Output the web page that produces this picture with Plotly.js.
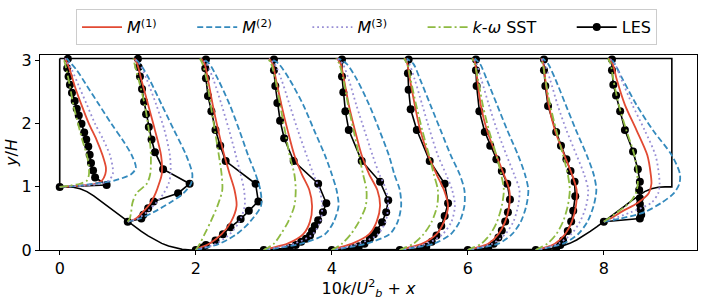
<!DOCTYPE html>
<html><head><meta charset="utf-8">
<script src="https://cdn.plot.ly/plotly-3.0.1.min.js"></script>
<style>html,body{margin:0;padding:0;background:#fff}#chart{width:706px;height:300px}</style>
</head><body><div id="chart"></div>
<script>
// ---- stations (x positions of profiles) ----
const stations = [0, 1, 2, 3, 4, 5, 6, 7, 8];

// ---- geometry: hill height vs distance from crest (y/H), channel top ----
const hillDist   = [0, 0.1, 0.2, 0.3, 0.4, 0.5, 0.6, 0.7, 0.8, 0.9, 1.0, 1.1, 1.2, 1.3, 1.4, 1.5, 1.6, 1.7, 1.8, 1.93];
const hillHeight = [1, 1.0, 0.994, 0.972, 0.925, 0.857, 0.776, 0.691, 0.607, 0.527, 0.448, 0.371, 0.295, 0.224, 0.159, 0.105, 0.062, 0.030, 0.010, 0];
const channelTop = 3.035;
const periodLength = 9;

// ---- legend labels ----
const labelM1 = '<i>M</i><sup>(1)</sup>';
const labelM2 = '<i>M</i><sup>(2)</sup>';
const labelM3 = '<i>M</i><sup>(3)</sup>';
const labelSST = '<i>k</i>-<i>ω</i> SST';
const labelLES = 'LES';

// ---- y levels of model profiles ----
const yCrest = [1.0, 1.02, 1.05, 1.1, 1.2, 1.3, 1.5, 1.75, 2.0, 2.3, 2.6, 2.85, 3.035];
const ySlope = [0.448, 0.5, 0.6, 0.75, 0.9, 1.05, 1.2, 1.5, 1.9, 2.3, 2.7, 2.95, 3.035];
const yFlat  = [0, 0.03, 0.1, 0.25, 0.45, 0.7, 0.95, 1.2, 1.5, 1.9, 2.3, 2.7, 2.95, 3.035];
const modelY = [yCrest, ySlope, yFlat, yFlat, yFlat, yFlat, yFlat, yFlat, ySlope];

// ---- 10k/Ub^2 for each model, per station ----
const m1K = [
  [0, 0.3, 0.52, 0.62, 0.67, 0.68, 0.63, 0.54, 0.43, 0.32, 0.22, 0.15, 0.08],
  [0, 0.12, 0.22, 0.34, 0.41, 0.46, 0.5, 0.49, 0.4, 0.3, 0.2, 0.14, 0.1],
  [0, 0.05, 0.2, 0.38, 0.52, 0.6, 0.57, 0.5, 0.42, 0.33, 0.25, 0.18, 0.13, 0.08],
  [0, 0.1, 0.35, 0.58, 0.68, 0.71, 0.67, 0.56, 0.45, 0.35, 0.26, 0.18, 0.13, 0.08],
  [0, 0.08, 0.3, 0.55, 0.66, 0.71, 0.67, 0.55, 0.44, 0.34, 0.25, 0.18, 0.13, 0.08],
  [0, 0.1, 0.33, 0.54, 0.65, 0.71, 0.65, 0.54, 0.42, 0.3, 0.22, 0.15, 0.11, 0.08],
  [0, 0.1, 0.3, 0.45, 0.55, 0.61, 0.61, 0.53, 0.42, 0.28, 0.19, 0.14, 0.11, 0.08],
  [0, 0.1, 0.28, 0.43, 0.53, 0.59, 0.6, 0.53, 0.42, 0.28, 0.19, 0.14, 0.11, 0.08],
  [0, 0.1, 0.25, 0.5, 0.66, 0.7, 0.69, 0.64, 0.48, 0.31, 0.19, 0.13, 0.08]
];
const m2K = [
  [0, 0.3, 0.5, 0.8, 1.05, 1.12, 1.06, 0.92, 0.76, 0.58, 0.4, 0.25, 0.1],
  [0, 0.18, 0.38, 0.62, 0.82, 0.93, 0.95, 0.86, 0.68, 0.5, 0.32, 0.18, 0.1],
  [0, 0.12, 0.35, 0.6, 0.8, 0.96, 0.95, 0.88, 0.77, 0.64, 0.5, 0.33, 0.2, 0.1],
  [0, 0.2, 0.55, 0.9, 1.03, 1.1, 1.07, 1.0, 0.9, 0.74, 0.58, 0.38, 0.22, 0.1],
  [0, 0.18, 0.5, 0.85, 0.97, 1.02, 1.0, 0.92, 0.84, 0.7, 0.55, 0.37, 0.22, 0.1],
  [0, 0.16, 0.5, 0.75, 0.88, 0.95, 0.95, 0.88, 0.75, 0.6, 0.45, 0.3, 0.2, 0.1],
  [0, 0.15, 0.45, 0.65, 0.78, 0.86, 0.89, 0.84, 0.74, 0.58, 0.43, 0.28, 0.18, 0.1],
  [0, 0.14, 0.4, 0.62, 0.76, 0.85, 0.89, 0.85, 0.75, 0.59, 0.44, 0.29, 0.18, 0.1],
  [0, 0.25, 0.6, 0.85, 1.03, 1.11, 1.12, 1.0, 0.72, 0.48, 0.28, 0.16, 0.1]
];
const m3K = [
  [0, 0.35, 0.6, 0.72, 0.78, 0.78, 0.74, 0.64, 0.52, 0.4, 0.28, 0.18, 0.08],
  [0, 0.15, 0.28, 0.42, 0.53, 0.6, 0.63, 0.62, 0.54, 0.42, 0.28, 0.17, 0.1],
  [0, 0.1, 0.3, 0.5, 0.64, 0.72, 0.71, 0.66, 0.59, 0.49, 0.38, 0.26, 0.16, 0.08],
  [0, 0.15, 0.45, 0.72, 0.83, 0.86, 0.82, 0.73, 0.63, 0.5, 0.38, 0.26, 0.16, 0.08],
  [0, 0.12, 0.4, 0.68, 0.79, 0.83, 0.8, 0.7, 0.6, 0.48, 0.36, 0.25, 0.16, 0.08],
  [0, 0.13, 0.4, 0.63, 0.76, 0.81, 0.77, 0.68, 0.56, 0.44, 0.33, 0.22, 0.14, 0.08],
  [0, 0.12, 0.36, 0.55, 0.67, 0.74, 0.76, 0.68, 0.57, 0.43, 0.31, 0.2, 0.13, 0.08],
  [0, 0.12, 0.33, 0.52, 0.65, 0.74, 0.77, 0.71, 0.6, 0.45, 0.32, 0.21, 0.13, 0.08],
  [0, 0.15, 0.4, 0.7, 0.8, 0.82, 0.81, 0.76, 0.6, 0.42, 0.26, 0.16, 0.08]
];
const sstK = [
  [0, 0.15, 0.3, 0.4, 0.43, 0.43, 0.4, 0.33, 0.27, 0.2, 0.15, 0.1, 0.06],
  [0, 0.03, 0.05, 0.07, 0.13, 0.28, 0.33, 0.34, 0.31, 0.25, 0.16, 0.1, 0.08],
  [0, 0.02, 0.06, 0.13, 0.22, 0.32, 0.39, 0.38, 0.34, 0.28, 0.22, 0.16, 0.1, 0.06],
  [0, 0.05, 0.15, 0.25, 0.36, 0.45, 0.47, 0.45, 0.38, 0.31, 0.24, 0.17, 0.11, 0.06],
  [0, 0.05, 0.15, 0.28, 0.4, 0.5, 0.51, 0.46, 0.4, 0.32, 0.24, 0.17, 0.11, 0.06],
  [0, 0.06, 0.2, 0.35, 0.47, 0.55, 0.56, 0.5, 0.43, 0.33, 0.24, 0.16, 0.11, 0.06],
  [0, 0.06, 0.2, 0.33, 0.43, 0.5, 0.53, 0.49, 0.42, 0.31, 0.22, 0.15, 0.1, 0.06],
  [0, 0.05, 0.17, 0.3, 0.4, 0.47, 0.5, 0.47, 0.4, 0.3, 0.21, 0.14, 0.1, 0.06],
  [0, 0.07, 0.2, 0.38, 0.47, 0.5, 0.49, 0.45, 0.33, 0.22, 0.14, 0.1, 0.06]
];

// ---- LES samples (y/H and 10k/Ub^2) per station ----
const lesY = [
  [1.0, 1.03, 1.15, 1.26, 1.38, 1.51, 1.64, 1.75, 1.86, 2.0, 2.13, 2.24, 2.36, 2.49, 2.62, 2.75, 2.88, 3.03],
  [0.448, 0.5, 0.56, 0.66, 0.77, 0.9, 1.05, 1.28, 1.55, 1.75, 1.95, 2.15, 2.35, 2.55, 2.75, 2.9, 3.03],
  [0, 0.04, 0.08, 0.15, 0.25, 0.36, 0.49, 0.62, 0.77, 1.05, 1.41, 1.65, 1.9, 2.2, 2.44, 2.72, 2.88, 3.02],
  [0, 0.03, 0.08, 0.13, 0.18, 0.23, 0.3, 0.38, 0.47, 0.6, 0.74, 1.05, 1.41, 1.77, 2.05, 2.33, 2.6, 2.85, 3.02],
  [0, 0.03, 0.06, 0.1, 0.18, 0.25, 0.31, 0.44, 0.6, 0.79, 1.08, 1.41, 1.9, 2.2, 2.5, 2.75, 3.02],
  [0, 0.02, 0.05, 0.13, 0.23, 0.38, 0.54, 0.74, 1.05, 1.41, 1.9, 2.23, 2.54, 2.8, 3.02],
  [0, 0.03, 0.1, 0.2, 0.31, 0.45, 0.6, 0.8, 1.05, 1.25, 1.44, 1.65, 1.87, 2.2, 2.6, 2.85, 3.02],
  [0, 0.03, 0.08, 0.15, 0.3, 0.45, 0.62, 0.85, 1.08, 1.25, 1.44, 1.65, 1.87, 2.28, 2.6, 2.85, 3.02],
  [0.448, 0.5, 0.56, 0.64, 0.73, 0.82, 0.95, 1.08, 1.28, 1.56, 1.9, 2.2, 2.45, 2.62, 2.85, 3.02]
];
const lesK = [
  [0, 0.69, 0.52, 0.49, 0.46, 0.44, 0.42, 0.39, 0.36, 0.32, 0.28, 0.25, 0.22, 0.18, 0.15, 0.13, 0.11, 0.12],
  [0, 0.2, 0.23, 0.3, 0.38, 0.74, 0.91, 0.52, 0.4, 0.35, 0.31, 0.27, 0.24, 0.21, 0.18, 0.16, 0.15],
  [0, 0.1, 0.15, 0.29, 0.4, 0.51, 0.66, 0.78, 0.92, 0.88, 0.44, 0.36, 0.29, 0.23, 0.18, 0.15, 0.14, 0.15],
  [0, 0.38, 0.47, 0.55, 0.62, 0.68, 0.71, 0.75, 0.8, 0.87, 0.92, 0.8, 0.44, 0.3, 0.24, 0.2, 0.17, 0.15, 0.15],
  [0, 0.3, 0.4, 0.48, 0.56, 0.62, 0.66, 0.74, 0.8, 0.83, 0.71, 0.44, 0.25, 0.2, 0.17, 0.15, 0.15],
  [0, 0.3, 0.39, 0.47, 0.54, 0.61, 0.66, 0.71, 0.66, 0.44, 0.25, 0.16, 0.13, 0.12, 0.13],
  [0, 0.3, 0.38, 0.45, 0.5, 0.55, 0.59, 0.62, 0.58, 0.5, 0.42, 0.33, 0.25, 0.17, 0.13, 0.12, 0.12],
  [0, 0.3, 0.36, 0.4, 0.47, 0.52, 0.55, 0.58, 0.57, 0.51, 0.45, 0.37, 0.3, 0.18, 0.14, 0.12, 0.12],
  [0, 0.53, 0.55, 0.54, 0.53, 0.53, 0.52, 0.53, 0.5, 0.43, 0.31, 0.24, 0.18, 0.14, 0.12, 0.12]
];

// ---- build ----
function profiles(kSets, ySets) {
  const x = [], y = [];
  stations.forEach((s, i) => {
    kSets[i].forEach((k, j) => { x.push(s + k); y.push(ySets[i][j]); });
    x.push(null); y.push(null);
  });
  return {x, y};
}
const pad = n => '\u00a0'.repeat(n);

// geometry outline
const gx = [], gy = [];
gx.push(0); gy.push(channelTop);
hillDist.forEach((d, i) => { gx.push(d); gy.push(hillHeight[i]); });
for (let i = hillDist.length - 1; i >= 0; i--) { gx.push(periodLength - hillDist[i]); gy.push(hillHeight[i]); }
gx.push(periodLength); gy.push(channelTop);
gx.push(0); gy.push(channelTop);

const FONT = 'DejaVu Sans, Arial, sans-serif';
const FS = 16;
const LW = 1.8;
const les = profiles(lesK, lesY);
const p1 = profiles(m1K, modelY), p2 = profiles(m2K, modelY), p3 = profiles(m3K, modelY), p4 = profiles(sstK, modelY);

const traces = [
  {x: gx, y: gy, mode: 'lines', line: {color: '#000', width: 1.6}, showlegend: false, hoverinfo: 'skip'},
  {x: les.x, y: les.y, name: labelLES, legendrank: 5, mode: 'lines+markers', connectgaps: false,
   line: {color: '#000', width: 1.6}, marker: {color: '#000', size: 8, symbol: 'circle'}},
  {x: p1.x, y: p1.y, name: labelM1 + pad(6), legendrank: 1, mode: 'lines', connectgaps: false,
   line: {color: '#E24A33', width: LW, shape: 'spline', smoothing: 0.8}},
  {x: p2.x, y: p2.y, name: labelM2 + pad(6), legendrank: 2, mode: 'lines', connectgaps: false,
   line: {color: '#348ABD', width: LW, dash: '6px,3px', shape: 'spline', smoothing: 0.8}},
  {x: p3.x, y: p3.y, name: labelM3 + pad(6), legendrank: 3, mode: 'lines', connectgaps: false,
   line: {color: '#988ED5', width: LW, dash: '1.8px,3px', shape: 'spline', smoothing: 0.8}},
  {x: p4.x, y: p4.y, name: labelSST + pad(6), legendrank: 4, mode: 'lines', connectgaps: false,
   line: {color: '#8EBA42', width: LW, dash: '8px,3px,2px,3px', shape: 'spline', smoothing: 0.8}}
];

const layout = {
  width: 706, height: 300,
  margin: {l: 40, r: 9, t: 49, b: 50},
  paper_bgcolor: '#fff', plot_bgcolor: '#fff',
  font: {family: FONT, size: FS, color: '#000'},
  showlegend: true,
  legend: {orientation: 'h', x: 0.497, xanchor: 'center', y: 1.235, yanchor: 'top',
           bgcolor: '#fff', bordercolor: '#cccccc', borderwidth: 1, itemwidth: 40,
           font: {family: FONT, size: FS, color: '#000'}, tracegroupgap: 0},
  xaxis: {range: [-0.29, 9.37], tickvals: [0, 2, 4, 6, 8], ticks: 'outside', ticklen: 4, tickcolor: '#000',
          showgrid: false, zeroline: false, showline: true, mirror: true, linecolor: '#000', linewidth: 1,
          tickfont: {family: FONT, size: FS}, automargin: false,
          title: {text: '10<i>k</i>/<i>U</i><sup>2</sup><sub><i>b</i></sub> + <i>x</i>', standoff: 2, font: {family: FONT, size: FS}}},
  yaxis: {range: [0, 3.09], tickvals: [0, 1, 2, 3], ticks: 'outside', ticklen: 4, tickcolor: '#000',
          showgrid: false, zeroline: false, showline: true, mirror: true, linecolor: '#000', linewidth: 1,
          tickfont: {family: FONT, size: FS}, automargin: false,
          title: {text: '<i>y</i>/<i>H</i>', standoff: 0, font: {family: FONT, size: FS}}}
};

Plotly.newPlot('chart', traces, layout, {displayModeBar: false, staticPlot: true});
</script>
</body></html>
